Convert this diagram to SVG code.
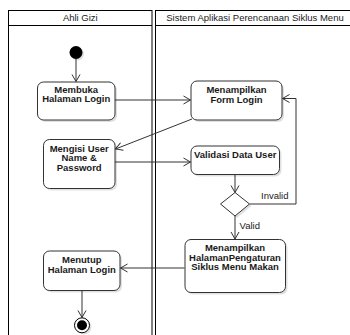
<svg xmlns="http://www.w3.org/2000/svg" width="350" height="335" viewBox="0 0 350 335">
<defs>
<style>
.lane{fill:#fff;stroke:#000;stroke-width:1}
.hdr{font-family:"Liberation Sans",Arial,sans-serif;font-size:9.5px;fill:#1a1a1a;text-anchor:middle}
.box{fill:#fff;stroke:#333;stroke-width:1}
.shadow{fill:#000;opacity:0.12}
.lbl{font-family:"Liberation Sans",Arial,sans-serif;font-size:9.5px;font-weight:bold;fill:#1a1a1a;text-anchor:middle}
.elbl{font-family:"Liberation Sans",Arial,sans-serif;font-size:9.5px;fill:#1a1a1a}
.edge{fill:none;stroke:#333;stroke-width:1;marker-end:url(#arr)}
</style>
<marker id="arr" markerWidth="10" markerHeight="10" refX="8" refY="5" orient="auto" markerUnits="userSpaceOnUse">
<path d="M1,1 L8,5 L1,9" fill="none" stroke="#333" stroke-width="1"/>
</marker>
</defs>
<rect width="350" height="335" fill="#fff"/>
<g id="lane-ahli-gizi">
<rect class="lane" x="8.5" y="10.5" width="143.5" height="335"/>
<line x1="8.5" y1="25.5" x2="152" y2="25.5" stroke="#000"/>
<text class="hdr" x="80.3" y="21">Ahli Gizi</text>
</g>
<g id="lane-sistem">
<rect class="lane" x="155.5" y="10.5" width="200" height="335"/>
<line x1="155.5" y1="25.5" x2="355.5" y2="25.5" stroke="#000"/>
<text class="hdr" x="255" y="21">Sistem Aplikasi Perencanaan Siklus Menu</text>
</g>
<g id="connectors">
<line class="edge" x1="76" y1="59" x2="76" y2="81.5"/>
<line class="edge" x1="115" y1="100" x2="190.5" y2="100"/>
<line class="edge" x1="192" y1="119" x2="115.5" y2="149"/>
<line class="edge" x1="115" y1="162" x2="190.5" y2="162"/>
<line class="edge" x1="235" y1="174" x2="235" y2="192.5"/>
<polyline class="edge" points="249.5,204 296,204 296,98.5 282.5,98.5"/>
<line class="edge" x1="235" y1="216" x2="235" y2="239"/>
<line class="edge" x1="184.5" y1="268" x2="120.5" y2="268"/>
<line class="edge" x1="82" y1="290.5" x2="82" y2="317.5"/>
<text class="elbl" x="261" y="199.3">Invalid</text>
<text class="elbl" x="239.5" y="229.3">Valid</text>
</g>
<g id="start">
<circle cx="77.5" cy="54" r="6.5" class="shadow"/>
<circle cx="76" cy="52.5" r="6.5" fill="#000"/>
</g>
<g id="membuka">
<rect class="shadow" x="39.5" y="84" width="77.5" height="38" rx="6"/>
<rect class="box" x="37.5" y="82" width="77.5" height="38" rx="6"/>
<text class="lbl" x="76.2" y="92.7">Membuka</text>
<text class="lbl" x="76.2" y="102.4">Halaman Login</text>
</g>
<g id="form-login">
<rect class="shadow" x="193" y="83" width="91" height="39" rx="6"/>
<rect class="box" x="191" y="81" width="91" height="39" rx="6"/>
<text class="lbl" x="236.5" y="93">Menampilkan</text>
<text class="lbl" x="236.5" y="102.5">Form Login</text>
</g>
<g id="mengisi">
<rect class="shadow" x="45.5" y="141.5" width="71.5" height="49" rx="6"/>
<rect class="box" x="43.5" y="139.5" width="71.5" height="49" rx="6"/>
<text class="lbl" x="79.2" y="151.7">Mengisi User</text>
<text class="lbl" x="79.2" y="161.2">Name &amp;</text>
<text class="lbl" x="79.2" y="170.7">Password</text>
</g>
<g id="validasi">
<rect class="shadow" x="193" y="148" width="88.5" height="28.5" rx="6"/>
<rect class="box" x="191" y="146" width="88.5" height="28.5" rx="6"/>
<text class="lbl" x="235.2" y="158">Validasi Data User</text>
</g>
<g id="decision">
<polygon class="shadow" points="237,195 251.5,206 237,218 222.5,206"/>
<polygon class="box" points="235,192.5 249.5,204 235,216 220.5,204"/>
</g>
<g id="pengaturan">
<rect class="shadow" x="187" y="241.5" width="100.5" height="53" rx="6"/>
<rect class="box" x="185" y="239.5" width="100.5" height="53" rx="6"/>
<text class="lbl" x="235" y="251">Menampilkan</text>
<text class="lbl" x="235" y="260.5">HalamanPengaturan</text>
<text class="lbl" x="235" y="270">Siklus Menu Makan</text>
</g>
<g id="menutup">
<rect class="shadow" x="45.5" y="253" width="76.5" height="39.5" rx="6"/>
<rect class="box" x="43.5" y="251" width="76.5" height="39.5" rx="6"/>
<text class="lbl" x="81.8" y="263.3">Menutup</text>
<text class="lbl" x="81.8" y="273">Halaman Login</text>
</g>
<g id="end">
<circle cx="84" cy="327" r="7.5" class="shadow"/>
<circle cx="82" cy="325.3" r="7.5" fill="#fff" stroke="#000" stroke-width="1"/>
<circle cx="82" cy="325.3" r="5" fill="#000"/>
</g>
</svg>
